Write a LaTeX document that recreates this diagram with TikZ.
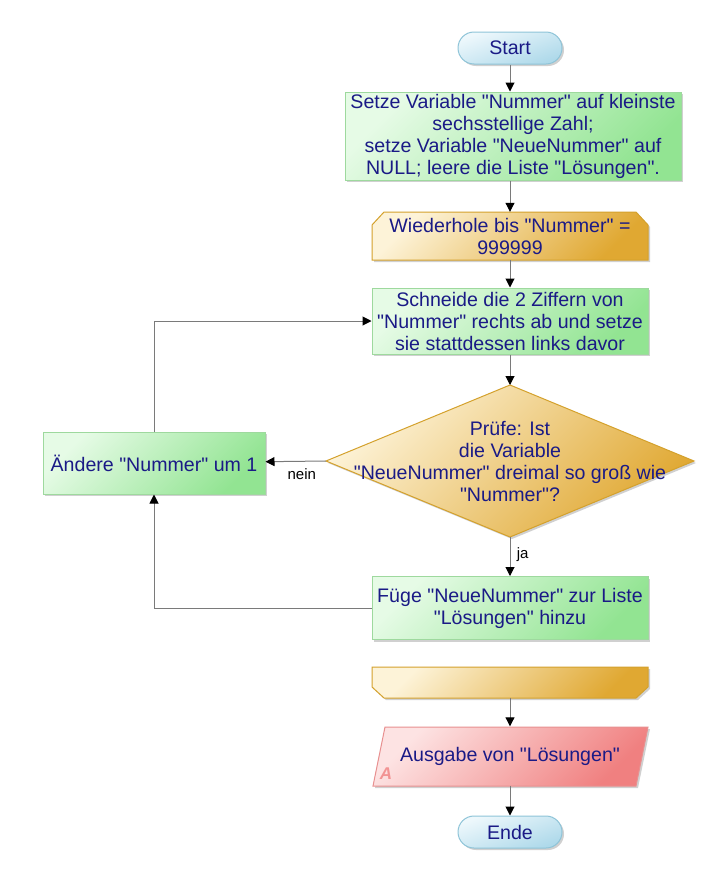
\documentclass[tikz,border=0pt]{standalone}
\usepackage{fontspec}
% plain family: no TeX ligature mapping, so " stays a straight quote
\newfontfamily\lsans{Liberation Sans}
\usetikzlibrary{arrows.meta,shadows}

\definecolor{txt}{HTML}{1A1A86}
\definecolor{lnk}{HTML}{7A7A7A}
\definecolor{grnA}{HTML}{E6FBE6}
\definecolor{grnB}{HTML}{92E492}
\definecolor{grnD}{HTML}{9ED99E}
\definecolor{golA}{HTML}{FDF3D8}
\definecolor{golB}{HTML}{E0A832}
\definecolor{golD}{HTML}{D4A12C}
\definecolor{redA}{HTML}{FDE3E3}
\definecolor{redB}{HTML}{F08080}
\definecolor{redD}{HTML}{E89090}
\definecolor{bluA}{HTML}{EEF8FC}
\definecolor{bluB}{HTML}{AED9EA}
\definecolor{bluD}{HTML}{8EC4D8}

\tikzset{
  shade/.style={drop shadow={shadow xshift=2pt,shadow yshift=-2pt,fill=black!30,opacity=.6}},
  label txt/.style={font=\lsans\fontsize{19.6}{22}\selectfont,text=txt,align=center},
  greenbox/.style={label txt,draw=grnD,line width=1pt,top color=grnA,bottom color=grnB,shading angle=45,shade,inner sep=0pt},
  goldfill/.style={draw=golD,line width=1pt,top color=golA,bottom color=golB,shading angle=45,shade},
  redfill/.style={draw=redD,line width=1pt,top color=redA,bottom color=redB,shading angle=45,shade},
  terminal/.style={label txt,draw=bluD,line width=1pt,top color=bluA,bottom color=bluB,shading angle=20,rounded corners=16pt,shade,inner sep=0pt,minimum width=104,minimum height=32},
  textonly/.style={label txt,inner sep=0pt},
  flow/.style={draw=lnk,line width=1pt,-{Triangle[length=9pt,width=9pt,fill=black,color=black]}},
  small/.style={font=\lsans\fontsize{15}{17}\selectfont,text=black}
}

\begin{document}
\begin{tikzpicture}[x=1pt,y=-1pt]
\useasboundingbox[fill=white] (0,0) rectangle (720,873);

% start / end terminals
\node[terminal] (start) at (510,48) {Start};
\node[terminal] (ende) at (510,832) {Ende};

% initialisation
\node[greenbox,minimum width=336,minimum height=88] (init) at (513,136)
  {Setze Variable "Nummer" auf kleinste\\sechsstellige Zahl;\\setze Variable "NeueNummer" auf\\NULL; leere die Liste "Lösungen".};

% loop head (top corners cut)
\path[goldfill] (384,212) -- (636,212) -- (648,225) -- (648,260) -- (372,260) -- (372,225) -- cycle;
\node[textonly,minimum width=276,minimum height=48] (loop) at (510,236)
  {Wiederhole bis "Nummer" =\\999999};

% rotate digits
\node[greenbox,minimum width=276,minimum height=66] (rot) at (510,321)
  {Schneide die 2 Ziffern von\\"Nummer" rechts ab und setze\\sie stattdessen links davor};

% decision
\coordinate (dT) at (510,385);
\coordinate (dR) at (694,461);
\coordinate (dB) at (510,537);
\coordinate (dL) at (326,461);
\path[goldfill] (dT) -- (dR) -- (dB) -- (dL) -- cycle;
\node[textonly] (test) at (510,461)
  {Prüfe: Ist\\die Variable\\"NeueNummer" dreimal so groß wie\\"Nummer"?};

% change number
\node[greenbox,minimum width=222,minimum height=62] (inc) at (154,463)
  {Ändere "Nummer" um 1};

% add to list
\node[greenbox,minimum width=276,minimum height=63] (add) at (510,608)
  {Füge "NeueNummer" zur Liste\\"Lösungen" hinzu};

% loop end (bottom corners cut)
\path[goldfill] (372,667) -- (648,667) -- (648,687) -- (636,698) -- (384,698) -- (372,687) -- cycle;
\node[textonly,minimum width=276,minimum height=31] (loopend) at (510,682) {};

% output
\path[redfill] (385,727) -- (648,727) -- (636,786) -- (373,786) -- cycle;
\node[textonly,minimum width=263,minimum height=59] (out) at (510,756)
  {Ausgabe von "Lösungen"};
\node[font=\lsans\fontsize{17}{17}\selectfont\bfseries\itshape,text=redB!85!white,inner sep=0pt] (outA) at (386,774) {A};

% connectors
\draw[flow] (start.south) -- (start.south |- init.north);
\draw[flow] (init.south -| loop) -- (loop);
\draw[flow] (loop) -- (rot);
\draw[flow] (rot) -- (dT);
\draw[flow] (dB) -- node[small,right,pos=0.45,xshift=3pt] {ja} (add);
\draw[flow] (dL) -- node[small,below,yshift=-3pt,xshift=6pt] {nein} (inc);
\draw[flow] (inc.north) |- (rot.west);
\draw[flow] (add.west) -| (inc.south);
\draw[flow] (loopend) -- (out);
\draw[flow] (out) -- (ende);
\end{tikzpicture}
\end{document}
